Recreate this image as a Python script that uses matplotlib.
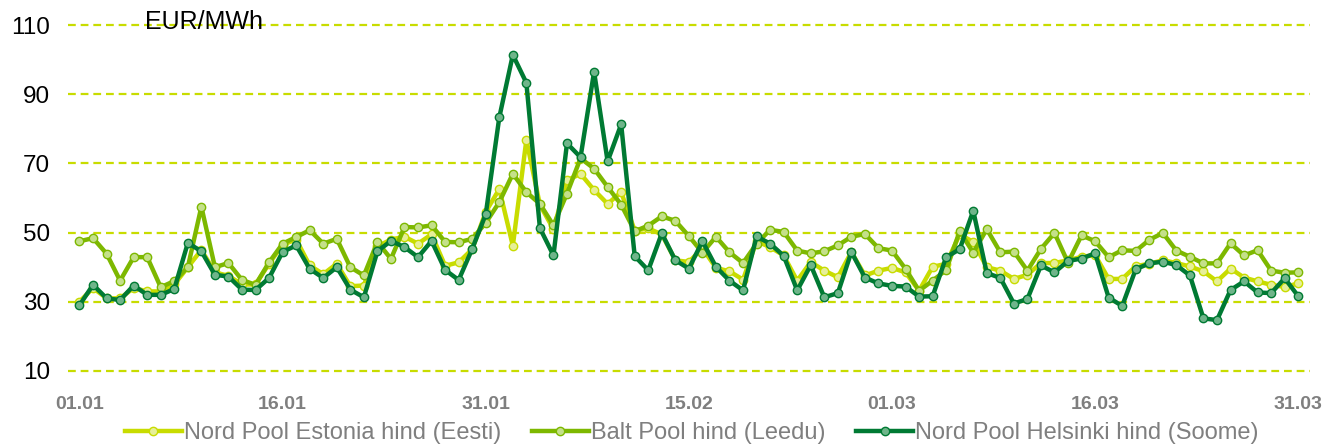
import numpy as np
import matplotlib.pyplot as plt

# ==============================================
# Data: daily prices 01.01 - 31.03 (91 days)
# ==============================================
tick_labels = ["01.01", "16.01", "31.01", "15.02", "01.03", "16.03", "31.03"]

estonia = [30.0, 34.0, 31.0, 31.0, 34.0, 33.0, 33.0, 35.0, 40.0, 45.0,
           38.5, 37.5, 35.0, 35.0, 41.0, 46.5, 48.0, 40.5, 38.0, 41.0,
           34.5, 34.7, 46.0, 48.0, 48.8, 46.8, 49.5, 40.4, 41.4, 45.2,
           56.0, 62.6, 46.2, 76.8, 58.0, 51.0, 65.1, 67.0, 62.3, 58.3,
           61.7, 50.6, 51.2, 49.5, 42.0, 41.5, 45.5, 39.8, 38.8, 36.4,
           47.5, 45.8, 43.4, 36.1, 41.5, 39.0, 37.1, 44.4, 37.6, 39.0,
           39.8, 38.5, 33.2, 40.1, 41.0, 49.5, 47.3, 40.0, 39.0, 36.6,
           37.8, 41.2, 41.2, 42.0, 43.0, 43.5, 36.6, 36.6, 40.3, 41.0,
           42.0, 41.2, 40.2, 38.8, 35.9, 39.6, 37.0, 35.9, 34.9, 34.3,
           35.3]

balt = [47.5, 48.4, 43.9, 36.1, 42.9, 42.9, 34.2, 36.0, 40.0, 57.5,
        40.0, 41.2, 36.3, 34.9, 41.4, 46.8, 48.7, 50.7, 46.8, 48.2,
        40.0, 37.6, 47.3, 42.4, 51.6, 51.5, 52.1, 47.3, 47.2, 48.2,
        52.8, 58.8, 67.0, 61.7, 58.3, 52.1, 61.3, 71.5, 68.5, 63.2,
        58.1, 50.4, 52.0, 54.7, 53.4, 49.0, 44.2, 48.8, 44.3, 41.2,
        46.8, 50.8, 50.2, 44.8, 44.0, 44.6, 46.3, 48.8, 49.6, 45.5,
        44.8, 39.5, 33.2, 36.1, 39.2, 50.4, 44.2, 51.0, 44.3, 44.5,
        39.0, 45.3, 49.9, 41.3, 49.2, 47.5, 42.9, 44.9, 44.7, 47.9,
        49.9, 44.8, 43.0, 41.1, 41.1, 46.9, 43.4, 44.9, 39.0, 38.4,
        38.5]

helsinki = [29.0, 34.9, 31.0, 30.5, 34.7, 32.0, 32.0, 33.7, 47.0, 44.6,
            37.8, 37.3, 33.5, 33.4, 36.9, 44.4, 46.3, 39.5, 36.9, 40.0,
            33.5, 31.3, 44.6, 47.6, 45.8, 42.9, 47.6, 39.2, 36.3, 45.3,
            55.3, 83.3, 101.4, 93.3, 51.3, 43.4, 75.8, 71.8, 96.5, 70.6,
            81.3, 43.2, 39.1, 49.8, 42.0, 39.6, 47.5, 40.1, 36.1, 33.3,
            48.9, 46.8, 43.3, 33.3, 40.6, 31.3, 32.5, 44.4, 37.0, 35.3,
            34.6, 34.4, 31.5, 31.6, 42.9, 45.2, 56.3, 38.3, 36.9, 29.5,
            30.8, 40.5, 38.5, 41.8, 42.5, 44.0, 31.2, 28.8, 39.4, 41.1,
            41.6, 40.6, 37.6, 25.2, 24.7, 33.4, 35.9, 32.7, 32.5, 36.8,
            31.6]

days = np.arange(len(helsinki))

# ==============================================
# Plot
# ==============================================
plt.rcParams["font.family"] = ["Liberation Sans", "DejaVu Sans"]

fig = plt.figure(figsize=(13.41, 4.48), dpi=100)
ax = fig.add_axes([0.0507, 0.172, 0.926, 0.772])

series = [
    (estonia, "Nord Pool Estonia hind (Eesti)", "#C8DC00", "#E6EF99"),
    (balt, "Balt Pool hind (Leedu)", "#7DB800", "#C4E08A"),
    (helsinki, "Nord Pool Helsinki hind (Soome)", "#007A33", "#6FB58A"),
]
for vals, label, col, face in series:
    ax.plot(days, vals, color=col, lw=3.2, marker="o", ms=6,
            mfc=face, mec=col, mew=1.0, label=label)

ax.set_xlim(-0.85, 90.85)
ax.set_ylim(10, 110)
ax.set_yticks(np.arange(10, 111, 20))
ax.set_xticks(np.arange(0, 91, 15))
ax.set_xticklabels(tick_labels)

ax.grid(axis="y", color="#C8DC00", lw=1.6, linestyle=(0, (3.5, 2.2)))
ax.set_axisbelow(True)
for gl in ax.get_ygridlines():
    gl.set_clip_on(False)
for s in ax.spines.values():
    s.set_visible(False)

ax.tick_params(axis="y", length=0, pad=13, labelsize=17.5, labelcolor="black")
ax.tick_params(axis="x", length=0, pad=18, labelsize=14, labelcolor="#7F7F7F")
for t in ax.get_xticklabels():
    t.set_fontweight("bold")

fig.text(145 / 1341, 1 - 22 / 448, "EUR/MWh", fontsize=18, va="center", ha="left")

fig.legend(loc="center", bbox_to_anchor=(0.516, 0.033), ncol=3, frameon=False,
           fontsize=17, handlelength=2.4, handletextpad=0.1, columnspacing=1.3,
           labelcolor="#7F7F7F")

plt.savefig("out.png", dpi=100)
